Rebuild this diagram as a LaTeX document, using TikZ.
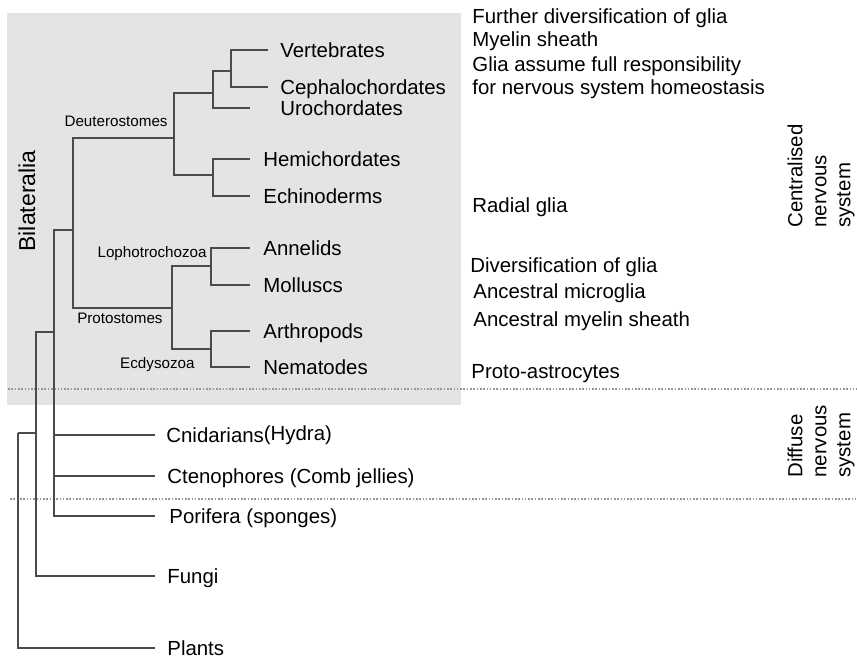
\documentclass[tikz,border=0pt]{standalone}
\usepackage{fontspec}
\setmainfont{Liberation Sans}
\usetikzlibrary{positioning}

\definecolor{cladebg}{RGB}{228,228,228}
\definecolor{branchgray}{RGB}{75,75,75}
\definecolor{dividergray}{RGB}{150,150,150}

\begin{document}
\begin{tikzpicture}[
    x=0.5pt, y=-0.5pt,
    taxon/.style={inner sep=0pt, anchor=west, font=\fontsize{10.2}{12}\selectfont, text height=7.3pt, text depth=0pt},
    clade/.style={inner sep=0pt, anchor=east, font=\fontsize{7.6}{9}\selectfont, text height=5.5pt, text depth=0pt},
    trait/.style={taxon},
    system/.style={inner sep=0pt, rotate=90, anchor=west, align=left, font=\fontsize{10.2}{12}\selectfont},
    branch/.style={draw=branchgray, line width=0.8pt},
    divider/.style={draw=dividergray, line width=0.8pt, dash pattern=on 0.8pt off 0.85pt}
]
\useasboundingbox (0,0) rectangle (857,660);

% Bilateria background and dividers
\fill[cladebg] (7,13) rectangle (461,405);
\draw[divider] (8,389) -- (857,389);
\draw[divider] (10,499) -- (857,499);

% Branch points
\coordinate (vc) at (231,71);
\coordinate (chord) at (213,93);
\coordinate (deut) at (174,138);
\coordinate (amb) at (213,175);
\coordinate (lopho) at (211,266);
\coordinate (ecdy) at (211,349);
\coordinate (prot) at (172,308);
\coordinate (bil) at (73,230);
\coordinate (meta) at (54,332);
\coordinate (opist) at (36,433);
\coordinate (root) at (18,433);

% Branch tips
\coordinate (vtip) at (268,50);
\coordinate (ctip) at (268,87);
\coordinate (utip) at (250,108);
\coordinate (htip) at (250,159);
\coordinate (etip) at (250,196);
\coordinate (atip) at (250,248);
\coordinate (mtip) at (250,285);
\coordinate (artip) at (250,331);
\coordinate (ntip) at (250,367);
\coordinate (cntip) at (155,435);
\coordinate (cttip) at (155,476);
\coordinate (ptip) at (155,516);
\coordinate (ftip) at (155,576);
\coordinate (pltip) at (155,648);

% Taxa
\node (vert) [taxon, right=6pt of vtip] {Vertebrates};
\node (ceph) [taxon, right=6pt of ctip] {Cephalochordates};
\node (uro) [taxon, right=15pt of utip] {Urochordates};
\node (hemi) [taxon, right=6.5pt of htip] {Hemichordates};
\node (echi) [taxon, right=6.5pt of etip] {Echinoderms};
\node (anne) [taxon, right=6.5pt of atip] {Annelids};
\node (moll) [taxon, right=6.5pt of mtip] {Molluscs};
\node (arth) [taxon, right=6.5pt of artip] {Arthropods};
\node (nema) [taxon, right=6.5pt of ntip] {Nematodes};
\node (cnid) [taxon, right=5.5pt of cntip] {Cnidarians\raisebox{1pt}{(Hydra)}};
\node (cten) [taxon, right=6pt of cttip] {Ctenophores (Comb jellies)};
\node (pori) [taxon, right=7pt of ptip] {Porifera (sponges)};
\node (fung) [taxon, right=6pt of ftip] {Fungi};
\node (plan) [taxon, right=6pt of pltip] {Plants};

% Tree
\draw[branch] (vc) |- (vtip) (vc) |- (ctip);
\draw[branch] (chord) |- (vc) (chord) |- (utip);
\draw[branch] (amb) |- (htip) (amb) |- (etip);
\draw[branch] (deut) |- (chord) (deut) |- (amb);
\draw[branch] (lopho) |- (atip) (lopho) |- (mtip);
\draw[branch] (ecdy) |- (artip) (ecdy) |- (ntip);
\draw[branch] (prot) |- (lopho) (prot) |- (ecdy);
\draw[branch] (bil) |- (deut) (bil) |- (prot);
\draw[branch] (meta) |- (bil) (meta) |- (cntip) (meta) |- (cttip) (meta) |- (ptip);
\draw[branch] (opist) |- (meta) (opist) |- (ftip);
\draw[branch] (root) -- (opist) (root) |- (pltip);

% Clade names
\node (deutlab) [clade] at (168,121) {Deuterostomes};
\node (lopholab) [clade] at (207,252) {Lophotrochozoa};
\node (protlab) [clade] at (163,318) {Protostomes};
\node (ecdylab) [clade] at (195,363) {Ecdysozoa};
\node (bilab) [inner sep=0pt, rotate=90, font=\fontsize{11.5}{13}\selectfont] at (27,201) {Bilateralia};

% Glial traits
\node (t1) [trait] at (472,16) {Further diversification of glia};
\node (t2) [trait] at (472,39) {Myelin sheath};
\node (t3) [trait] at (472,64) {Glia assume full responsibility};
\node (t4) [trait] at (472,87) {for nervous system homeostasis};
\node (t5) [trait] at (472,205) {Radial glia};
\node (t6) [trait] at (470,265) {Diversification of glia};
\node (t7) [trait] at (473,291) {Ancestral microglia};
\node (t8) [trait] at (473,319) {Ancestral myelin sheath};
\node (t9) [trait] at (471,371) {Proto-astrocytes};

% Nervous systems
\node (cns) [system] at (821,228) {Centralised\\nervous\\system};
\node (dns) [system] at (821,478) {Diffuse\\nervous\\system};

\end{tikzpicture}
\end{document}
